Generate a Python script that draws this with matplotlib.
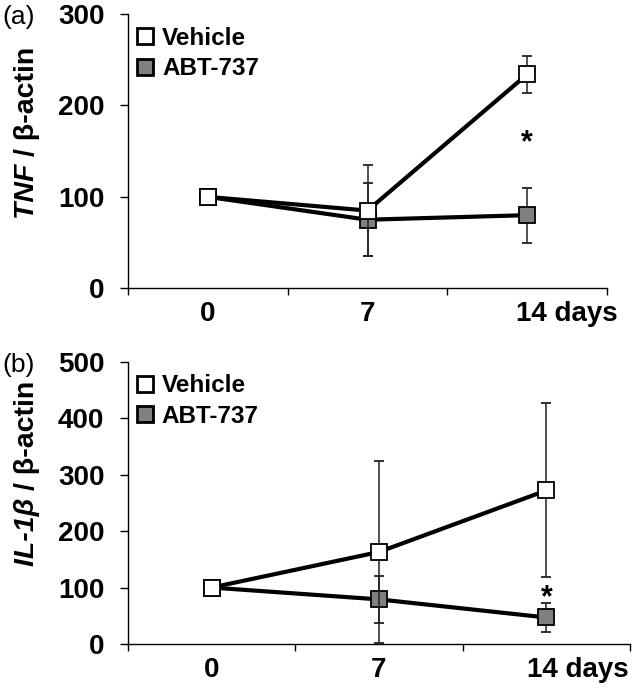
import matplotlib
matplotlib.use("Agg")
import matplotlib.pyplot as plt
from matplotlib.lines import Line2D

plt.rcParams['font.family'] = ['Liberation Sans', 'DejaVu Sans']

days = ['0', '7', '14']
groups = ['Vehicle', 'ABT-737']

tnf_vehicle = [100, 85, 234]
tnf_vehicle_err = [0, 50, 20]
tnf_abt = [100, 75, 80]
tnf_abt_err = [0, 40, 30]

il1b_vehicle = [100, 163, 272]
il1b_vehicle_err = [0, 161, 154]
il1b_abt = [100, 79, 47]
il1b_abt_err = [0, 42, 26]

sig_a = (2, 159)
sig_b = (2, 81)

GRAY = '#808080'
W, H = 633, 691

fig = plt.figure(figsize=(6.33, 6.91), dpi=100)
ax_a = fig.add_axes([128/W, 1-288.3/H, (607-128)/W, (288.3-14)/H])
ax_b = fig.add_axes([128/W, 1-644/H, (630-128)/W, (644-361.7)/H])

label_parts = []

def panel(ax, veh, veh_err, abt, abt_err, ymax, yticks, gene, label_c, sig, tag, tag_x, days_off):
    x = list(range(len(days)))
    ax.errorbar(x, abt, yerr=abt_err, color='black', lw=3, marker='s', ms=11,
                mfc=GRAY, mec='black', mew=1.3, ecolor='#222222', elinewidth=1.1,
                capsize=3.5, capthick=1.1, zorder=3)
    ax.errorbar(x, veh, yerr=veh_err, color='black', lw=3, marker='s', ms=11,
                mfc='white', mec='black', mew=1.3, ecolor='#222222', elinewidth=1.1,
                capsize=3.5, capthick=1.1, zorder=4)
    ax.set_xlim(-0.5, 2.5)
    ax.set_ylim(0, ymax)
    ax.set_yticks(yticks)
    ax.set_yticklabels([str(v) for v in yticks], fontsize=20, fontweight='bold')
    ax.set_xticks(x)
    ax.set_xticklabels(['0', '7', ''], fontsize=20, fontweight='bold')
    ax.set_xticks([-0.5, 0.5, 1.5, 2.5], minor=True)
    ax.tick_params(axis='x', which='major', length=0, pad=9.5)
    ax.tick_params(axis='x', which='minor', length=5, width=1, direction='out')
    ax.tick_params(axis='y', length=6, width=1, direction='out', pad=11)
    ax.annotate(days[2] + ' days', xy=(2, 0), xycoords=('data', 'axes fraction'),
                xytext=(days_off, -9.5), textcoords='offset points', ha='left', va='top',
                fontsize=20, fontweight='bold')
    for s in ['top', 'right']:
        ax.spines[s].set_visible(False)
    for s in ['left', 'bottom']:
        ax.spines[s].set_linewidth(1.0)
    # y label: italic gene name + bold remainder, rotated
    t1 = fig.text(33.5/W, 0.5, gene + ' ', rotation=90, rotation_mode='anchor',
                  ha='right', va='baseline', fontsize=20.5, fontweight='bold', style='italic')
    t2 = fig.text(33.5/W, 0.5, '/ β-actin', rotation=90, rotation_mode='anchor',
                  ha='left', va='baseline', fontsize=20.5, fontweight='bold')
    label_parts.append((t1, t2, label_c))
    ax.text(sig[0], sig[1], '*', ha='center', va='center', fontsize=22, fontweight='bold')
    handles = [Line2D([], [], ls='none', marker='s', ms=11.5, mfc='white', mec='black', mew=2),
               Line2D([], [], ls='none', marker='s', ms=11.5, mfc=GRAY, mec='black', mew=2)]
    ax.legend(handles, groups, loc='upper left', bbox_to_anchor=(-0.02, 1.015), frameon=False,
              prop={'weight': 'bold', 'size': 17.5}, handlelength=0.8, handletextpad=0.3,
              labelspacing=0.3, borderaxespad=0.3)
    ax.text(tag_x, 0.989, tag, transform=ax.transAxes, fontsize=19, ha='left', va='center')

panel(ax_a, tnf_vehicle, tnf_vehicle_err, tnf_abt, tnf_abt_err, 300, [0, 100, 200, 300],
      'TNF', 133, sig_a, '(a)', (2-128)/479, -8)
panel(ax_b, il1b_vehicle, il1b_vehicle_err, il1b_abt, il1b_abt_err, 500, [0, 100, 200, 300, 400, 500],
      'IL-1β', 473.5, sig_b, '(b)', (2-128)/502, -14)

renderer = fig.canvas.get_renderer()
for t1, t2, yc in label_parts:
    h1 = t1.get_window_extent(renderer).height
    h2 = t2.get_window_extent(renderer).height
    total = h1 + h2
    # yc is measured from the top in pixels; convert to bottom-origin
    y_center = H - yc
    p = y_center - total / 2 + h1
    t1.set_y(p / H)
    t2.set_y(p / H)

fig.savefig('out.png', dpi=100)
